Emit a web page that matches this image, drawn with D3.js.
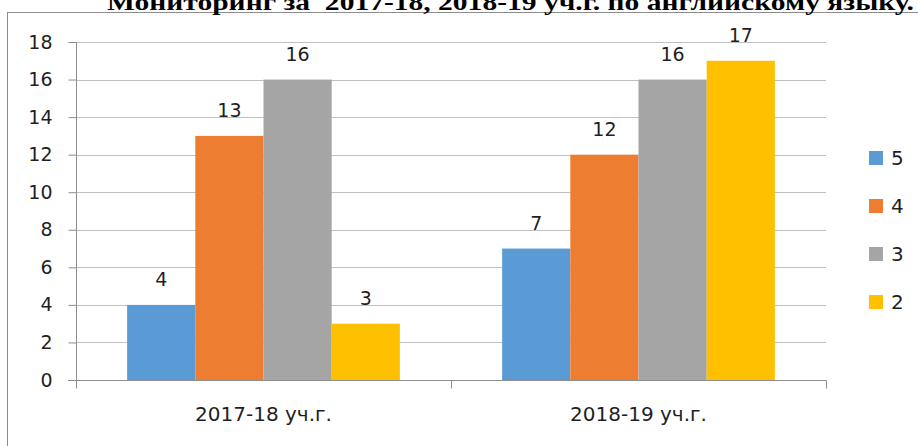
<!DOCTYPE html>
<html>
<head>
<meta charset="utf-8">
<script src="https://cdn.jsdelivr.net/npm/d3@7"></script>
<style>
  html, body { margin: 0; padding: 0; background: #fff; overflow: hidden; }
  svg { display: block; }
</style>
</head>
<body>
<svg id="chart" width="918" height="446"></svg>
<script>
// Academic years on the x axis
const years = ["2017-18 уч.г.", "2018-19 уч.г."];
// Grades shown in the legend, one series per grade
const grades = ["5", "4", "3", "2"];
const gradeColors = ["#5b9bd5", "#ed7d31", "#a5a5a5", "#ffc000"];
// Number of students per grade, indexed by year
const grade5 = [4, 7];
const grade4 = [13, 12];
const grade3 = [16, 16];
const grade2 = [3, 17];
const yTicks = [0, 2, 4, 6, 8, 10, 12, 14, 16, 18];
const title = "Мониторинг за  2017-18, 2018-19 уч.г. по английскому языку.";

const series = [grade5, grade4, grade3, grade2];
const svg = d3.select("#chart");
const font = "'DejaVu Sans', sans-serif";

// Outer chart frame
svg.append("rect")
  .attr("x", 7.5).attr("y", 12.5)
  .attr("width", 960).attr("height", 480)
  .attr("fill", "none").attr("stroke", "#8c8c8c").attr("stroke-width", 1);

// Title (sits above the frame, running off the top edge)
svg.append("text")
  .attr("x", 107).attr("y", 10)
  .attr("textLength", 807).attr("lengthAdjust", "spacingAndGlyphs")
  .style("white-space", "pre")
  .style("font-family", "'Liberation Serif', 'Times New Roman', serif")
  .style("font-weight", "bold").style("font-size", "24px")
  .attr("fill", "#000").text(title);

const plot = { left: 76, right: 826, top: 42, bottom: 380 };

const x = d3.scaleBand().domain(years).range([plot.left, plot.right]).paddingInner(0).paddingOuter(0);
const y = d3.scaleLinear().domain([0, 18]).range([plot.bottom, plot.top]);

// Bars fill 4/(4+1.5) of each category: 0.75 bar widths of gap on each side
const inner = d3.scaleBand().domain(grades).range([0, x.bandwidth()])
  .paddingInner(0).paddingOuter(0.75);

// Horizontal gridlines
svg.append("g").selectAll("line").data(yTicks.slice(1)).join("line")
  .attr("x1", plot.left).attr("x2", plot.right)
  .attr("y1", d => Math.round(y(d)) + 0.5).attr("y2", d => Math.round(y(d)) + 0.5)
  .attr("stroke", "#c0c0c0").attr("stroke-width", 1);

// Y axis
const yAxis = svg.append("g")
  .attr("transform", `translate(${plot.left + 0.5},0)`)
  .call(d3.axisLeft(y).tickValues(yTicks).tickSize(8).tickPadding(16).tickFormat(d3.format("d")));
yAxis.select(".domain").attr("stroke", "#8c8c8c").attr("d", `M0,${plot.top}V${plot.bottom + 3}`);
yAxis.selectAll(".tick line").attr("stroke", "#8c8c8c");
yAxis.selectAll(".tick text").style("font-family", font).style("font-size", "19px").attr("fill", "#1f1f1f");

// Bars with value labels
const groups = svg.append("g").selectAll("g").data(years).join("g")
  .attr("transform", d => `translate(${x(d)},0)`);

groups.each(function (year, yi) {
  const g = d3.select(this);
  grades.forEach((grade, gi) => {
    const v = series[gi][yi];
    g.append("rect")
      .attr("x", inner(grade)).attr("width", inner.bandwidth())
      .attr("y", y(v)).attr("height", y(0) - y(v))
      .attr("fill", gradeColors[gi]);
    g.append("text")
      .attr("x", inner(grade) + inner.bandwidth() / 2)
      .attr("y", y(v) - 19)
      .attr("text-anchor", "middle")
      .style("font-family", font).style("font-size", "19px")
      .attr("fill", "#1f1f1f").text(v);
  });
});

// X axis with category separators
const xAxisY = plot.bottom + 0.5;
svg.append("line")
  .attr("x1", plot.left - 8).attr("x2", plot.right + 0.5)
  .attr("y1", xAxisY).attr("y2", xAxisY)
  .attr("stroke", "#8c8c8c");
const sep = [plot.left, ...years.map(d => x(d) + x.bandwidth())];
svg.append("g").selectAll("line").data(sep).join("line")
  .attr("x1", d => Math.round(d) + 0.5).attr("x2", d => Math.round(d) + 0.5)
  .attr("y1", xAxisY).attr("y2", xAxisY + 8)
  .attr("stroke", "#8c8c8c");
svg.append("g").selectAll("text").data(years).join("text")
  .attr("x", d => x(d) + x.bandwidth() / 2)
  .attr("y", 421)
  .attr("text-anchor", "middle")
  .style("font-family", font).style("font-size", "20px")
  .attr("fill", "#1f1f1f").text(d => d);

// Legend
const legend = svg.append("g").selectAll("g").data(grades).join("g")
  .attr("transform", (d, i) => `translate(869,${158 + i * 48})`);
legend.append("rect")
  .attr("x", 0).attr("y", -7).attr("width", 14).attr("height", 14)
  .attr("fill", (d, i) => gradeColors[i]);
legend.append("text")
  .attr("x", 22).attr("y", 0).attr("dy", "0.36em")
  .style("font-family", font).style("font-size", "20px")
  .attr("fill", "#1f1f1f").text(d => d);
</script>
</body>
</html>
